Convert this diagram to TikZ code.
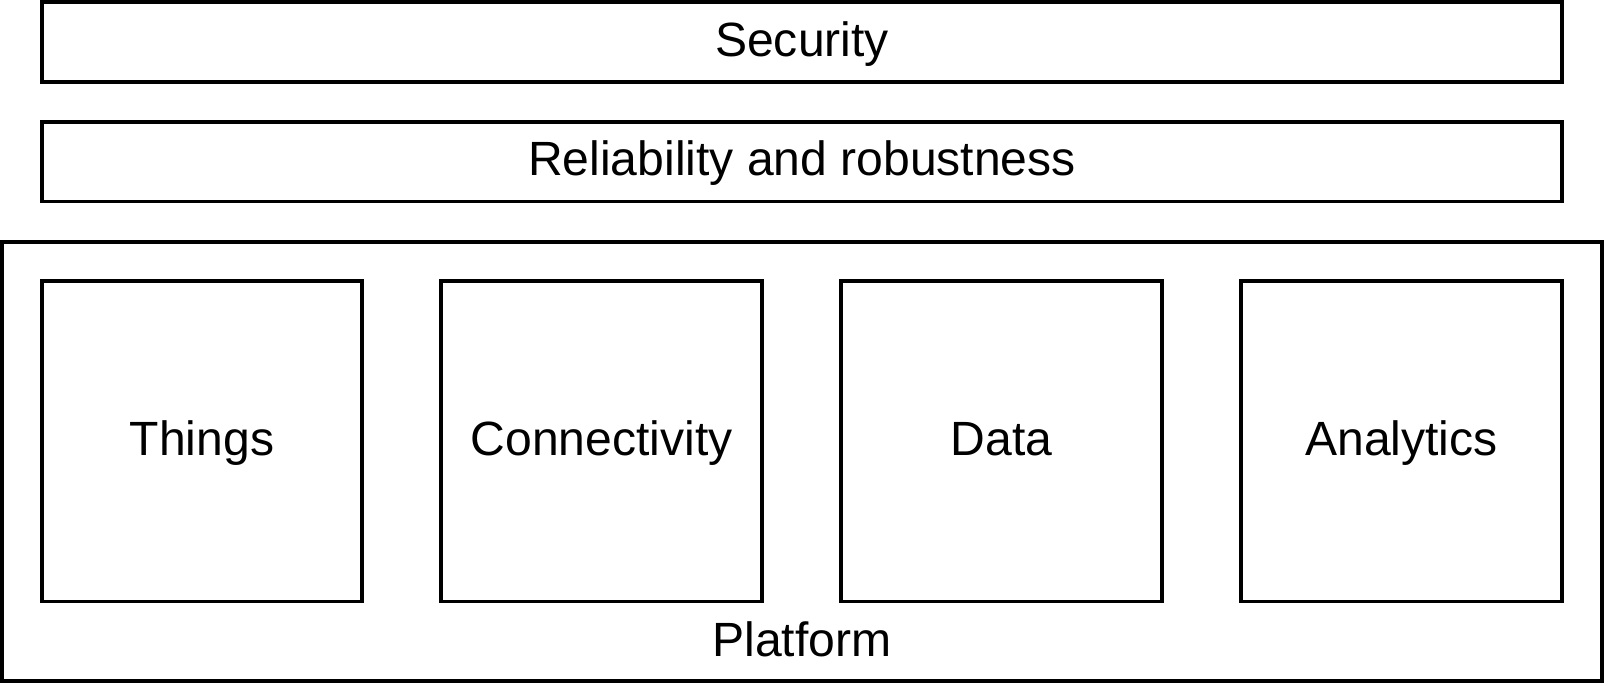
\documentclass[tikz,border=0pt]{standalone}
\usepackage{fontspec}
\setmainfont{Liberation Sans}
\begin{document}
\begin{tikzpicture}[x=0.5pt,y=-0.5pt,
  box/.style={draw=black, line width=1.9pt, fill=white, inner sep=0pt, outer sep=0pt},
  txt/.style={font=\fontsize{23.5}{28}\selectfont, text=black, text height=18.5pt, text depth=4.5pt}]
\useasboundingbox (0,0) rectangle (1568,668.7);
\node[box, minimum width=743pt, minimum height=39pt, txt] (security) at (784,41) {Security};
\node[box, minimum width=743pt, minimum height=39pt, txt] (reliab) at (784,158) {Reliability and robustness};
\node[box, minimum width=782pt, minimum height=214.5pt] (platform) at (784,451.5) {};
\node[txt, inner sep=0pt] (platlabel) at (784,627.5) {Platform};
\node[box, minimum width=156.5pt, minimum height=156.5pt, txt] (things) at (197.5,431.5) {Things};
\node[box, minimum width=156.5pt, minimum height=156.5pt, txt] (conn) at (588,431.5) {Connectivity};
\node[box, minimum width=156.5pt, minimum height=156.5pt, txt] (data) at (979,431.5) {Data};
\node[box, minimum width=156.5pt, minimum height=156.5pt, txt] (analytics) at (1370,431.5) {Analytics};
\end{tikzpicture}
\end{document}
